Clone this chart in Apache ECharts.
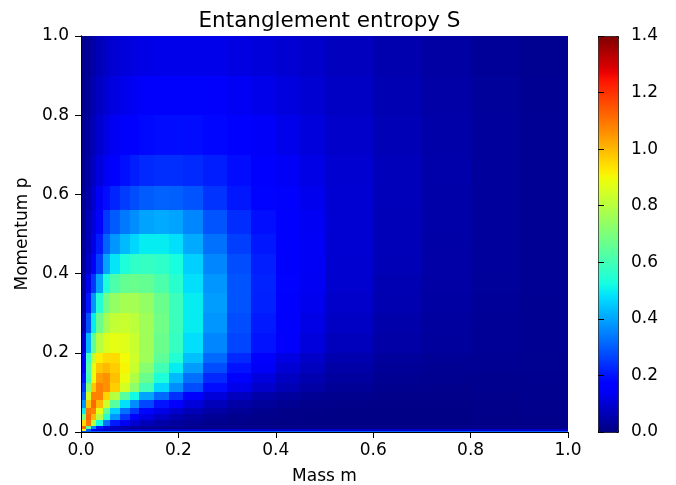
<!DOCTYPE html>
<html>
<head>
<meta charset="utf-8">
<script src="https://cdn.jsdelivr.net/npm/echarts@6/dist/echarts.min.js"></script>
<style>
  html, body { margin: 0; padding: 0; background: #fff; }
  #chart { width: 676px; height: 485px; }
</style>
</head>
<body>
<div id="chart"></div>
<script>
// cell edges of the sampled grid (mass along x, momentum along y)
const massEdges = [0, 0.01, 0.02, 0.03, 0.045, 0.06, 0.08, 0.10, 0.12, 0.15, 0.18, 0.21,
  0.25, 0.30, 0.35, 0.40, 0.45, 0.50, 0.60, 0.70, 0.80, 0.90, 1.0];
const momentumEdges = [0, 0.003, 0.008, 0.015, 0.03, 0.045, 0.06, 0.08, 0.10, 0.125, 0.15,
  0.175, 0.20, 0.25, 0.30, 0.35, 0.40, 0.45, 0.50, 0.56, 0.62, 0.70, 0.80, 0.90, 1.0];

// entropy S, one row per momentum cell (bottom to top)
const entropy = [
  [0.3, 0.3, 0.3, 0.3, 0.3, 0.3, 0.3, 0.3, 0.3, 0.3, 0.3, 0.3, 0.3, 0.3, 0.3, 0.3, 0.3, 0.3, 0.3, 0.3, 0.3, 0.3],
  [0.9, 0.3, 0.16, 0.11, 0.1, 0.09, 0.09, 0.09, 0.09, 0.09, 0.09, 0.09, 0.09, 0.09, 0.09, 0.09, 0.09, 0.09, 0.09, 0.09, 0.09, 0.09],
  [1.12, 0.65, 0.36, 0.2, 0.12, 0.075, 0.05, 0.037, 0.028, 0.022, 0.018, 0.016, 0.014, 0.012, 0.011, 0.01, 0.01, 0.01, 0.01, 0.011, 0.012, 0.014],
  [0.95, 1.1, 0.8, 0.52, 0.33, 0.21, 0.14, 0.1, 0.07, 0.05, 0.037, 0.027, 0.018, 0.013, 0.01, 0.009, 0.008, 0.008, 0.008, 0.009, 0.011, 0.014],
  [0.7, 1.12, 1.0, 0.8, 0.56, 0.38, 0.25, 0.17, 0.12, 0.085, 0.06, 0.042, 0.028, 0.018, 0.013, 0.01, 0.009, 0.008, 0.008, 0.009, 0.011, 0.014],
  [0.5, 1.1, 1.08, 0.88, 0.66, 0.46, 0.33, 0.25, 0.18, 0.13, 0.095, 0.068, 0.044, 0.028, 0.019, 0.014, 0.011, 0.009, 0.008, 0.009, 0.012, 0.015],
  [0.38, 0.98, 1.12, 1.0, 0.84, 0.64, 0.48, 0.37, 0.27, 0.2, 0.15, 0.11, 0.07, 0.047, 0.032, 0.022, 0.016, 0.012, 0.01, 0.011, 0.013, 0.016],
  [0.3, 0.85, 1.08, 1.08, 0.96, 0.8, 0.64, 0.52, 0.4, 0.32, 0.24, 0.17, 0.11, 0.075, 0.05, 0.034, 0.025, 0.017, 0.013, 0.013, 0.015, 0.018],
  [0.25, 0.72, 0.98, 1.08, 1.06, 0.97, 0.85, 0.73, 0.6, 0.47, 0.37, 0.28, 0.19, 0.13, 0.09, 0.063, 0.045, 0.029, 0.019, 0.016, 0.017, 0.019],
  [0.2, 0.6, 0.9, 1.04, 1.06, 0.99, 0.89, 0.79, 0.67, 0.54, 0.43, 0.33, 0.23, 0.16, 0.115, 0.08, 0.058, 0.037, 0.024, 0.02, 0.019, 0.02],
  [0.16, 0.62, 0.88, 0.98, 1.0, 0.97, 0.91, 0.83, 0.72, 0.6, 0.5, 0.39, 0.28, 0.2, 0.145, 0.103, 0.076, 0.048, 0.03, 0.024, 0.022, 0.021],
  [0.14, 0.58, 0.82, 0.92, 0.95, 0.95, 0.9, 0.84, 0.76, 0.65, 0.55, 0.44, 0.32, 0.23, 0.165, 0.12, 0.088, 0.057, 0.036, 0.027, 0.023, 0.021],
  [0.1, 0.42, 0.65, 0.8, 0.86, 0.88, 0.87, 0.83, 0.76, 0.67, 0.58, 0.48, 0.36, 0.27, 0.2, 0.15, 0.113, 0.073, 0.046, 0.034, 0.027, 0.022],
  [0.06, 0.28, 0.5, 0.67, 0.77, 0.82, 0.83, 0.81, 0.76, 0.68, 0.59, 0.5, 0.38, 0.28, 0.21, 0.16, 0.125, 0.082, 0.052, 0.038, 0.029, 0.023],
  [0.04, 0.2, 0.38, 0.55, 0.68, 0.74, 0.77, 0.77, 0.74, 0.67, 0.59, 0.5, 0.39, 0.29, 0.22, 0.172, 0.135, 0.09, 0.058, 0.042, 0.031, 0.024],
  [0.035, 0.13, 0.25, 0.4, 0.54, 0.62, 0.66, 0.67, 0.66, 0.62, 0.56, 0.48, 0.38, 0.29, 0.222, 0.176, 0.142, 0.096, 0.062, 0.045, 0.033, 0.025],
  [0.03, 0.085, 0.15, 0.26, 0.4, 0.49, 0.54, 0.57, 0.58, 0.57, 0.53, 0.46, 0.36, 0.28, 0.217, 0.174, 0.143, 0.099, 0.066, 0.047, 0.034, 0.025],
  [0.027, 0.072, 0.125, 0.21, 0.31, 0.38, 0.43, 0.47, 0.5, 0.5, 0.48, 0.41, 0.33, 0.26, 0.205, 0.17, 0.143, 0.1, 0.068, 0.048, 0.035, 0.025],
  [0.024, 0.065, 0.11, 0.175, 0.25, 0.3, 0.34, 0.37, 0.4, 0.41, 0.4, 0.36, 0.29, 0.235, 0.193, 0.164, 0.14, 0.101, 0.069, 0.05, 0.036, 0.026],
  [0.02, 0.056, 0.095, 0.14, 0.19, 0.225, 0.255, 0.28, 0.3, 0.31, 0.305, 0.29, 0.245, 0.205, 0.178, 0.155, 0.134, 0.1, 0.07, 0.05, 0.036, 0.026],
  [0.018, 0.048, 0.08, 0.112, 0.142, 0.17, 0.195, 0.215, 0.23, 0.238, 0.238, 0.232, 0.215, 0.19, 0.165, 0.145, 0.125, 0.097, 0.07, 0.051, 0.036, 0.026],
  [0.016, 0.042, 0.068, 0.095, 0.12, 0.142, 0.16, 0.174, 0.185, 0.19, 0.192, 0.19, 0.182, 0.165, 0.148, 0.13, 0.112, 0.09, 0.066, 0.049, 0.035, 0.025],
  [0.014, 0.036, 0.058, 0.08, 0.1, 0.118, 0.132, 0.142, 0.15, 0.155, 0.157, 0.156, 0.152, 0.142, 0.128, 0.114, 0.1, 0.082, 0.062, 0.046, 0.033, 0.023],
  [0.012, 0.03, 0.048, 0.068, 0.085, 0.1, 0.11, 0.118, 0.124, 0.128, 0.13, 0.13, 0.128, 0.12, 0.11, 0.1, 0.09, 0.075, 0.057, 0.043, 0.031, 0.021]
];

const axisTicks = [0, 0.2, 0.4, 0.6, 0.8, 1.0];
const colorbarTicks = [0, 0.2, 0.4, 0.6, 0.8, 1.0, 1.2, 1.4];

// matplotlib "jet" colormap
function jet(t) {
  const seg = (xs, ys) => {
    for (let i = 1; i < xs.length; i++) {
      if (t <= xs[i]) return ys[i - 1] + (ys[i] - ys[i - 1]) * (t - xs[i - 1]) / (xs[i] - xs[i - 1]);
    }
    return ys[ys.length - 1];
  };
  const r = seg([0, 0.35, 0.66, 0.89, 1], [0, 0, 1, 1, 0.5]);
  const g = seg([0, 0.125, 0.375, 0.64, 0.91, 1], [0, 0, 1, 1, 0, 0]);
  const b = seg([0, 0.11, 0.34, 0.65, 1], [0.5, 1, 1, 0, 0]);
  return 'rgb(' + Math.round(r * 255) + ',' + Math.round(g * 255) + ',' + Math.round(b * 255) + ')';
}
const jetColors = Array.from({ length: 57 }, (_, i) => jet(i / 56));

const cells = [];
entropy.forEach((row, j) => {
  row.forEach((s, i) => {
    cells.push([massEdges[i], massEdges[i + 1], momentumEdges[j], momentumEdges[j + 1], s]);
  });
});

const font = 'DejaVu Sans';
const fmt = (v) => v.toFixed(1);

const chart = echarts.init(document.getElementById('chart'), null, { renderer: 'canvas' });

chart.setOption({
  animation: false,
  backgroundColor: '#fff',
  title: {
    text: 'Entanglement entropy S',
    left: 324.5,
    top: 5,
    textAlign: 'center',
    textStyle: { fontFamily: font, fontSize: 21.5, fontWeight: 'normal', color: '#000' }
  },
  grid: [
    { left: 81, top: 36, width: 487, height: 396, outerBoundsMode: 'none', containLabel: false },
    { left: 598, top: 36, width: 20, height: 396, outerBoundsMode: 'none', containLabel: false }
  ],
  xAxis: [
    {
      gridIndex: 0, type: 'value', min: 0, max: 1, interval: 0.2, position: 'bottom', z: 10,
      name: 'Mass m', nameLocation: 'middle', nameGap: 36,
      nameTextStyle: { fontFamily: font, fontSize: 17, color: '#000' },
      axisLine: { lineStyle: { color: '#000', width: 1 } },
      axisTick: { length: 6, lineStyle: { color: '#000', width: 1 } },
      axisLabel: {
        margin: 10, fontFamily: font, fontSize: 17, color: '#000',
        formatter: (v) => axisTicks.includes(+v.toFixed(1)) ? fmt(v) : ''
      },
      splitLine: { show: false }
    },
    { gridIndex: 1, type: 'value', min: 0, max: 1, show: false },
    {
      gridIndex: 0, type: 'value', min: 0, max: 1, position: 'top', z: 10,
      axisLine: { lineStyle: { color: '#000', width: 1 } },
      axisTick: { show: false }, axisLabel: { show: false }, splitLine: { show: false }
    }
  ],
  yAxis: [
    {
      gridIndex: 0, type: 'value', min: 0, max: 1, interval: 0.2, position: 'left', z: 10,
      name: 'Momentum p', nameLocation: 'middle', nameGap: 50, nameRotate: 90,
      nameTextStyle: { fontFamily: font, fontSize: 17, color: '#000' },
      axisLine: { lineStyle: { color: '#000', width: 1 } },
      axisTick: { length: 6, lineStyle: { color: '#000', width: 1 } },
      axisLabel: { margin: 12, fontFamily: font, fontSize: 17, color: '#000', formatter: fmt },
      splitLine: { show: false }
    },
    {
      gridIndex: 1, type: 'value', min: 0, max: 1.4, interval: 0.2, position: 'right', z: 10,
      axisLine: { show: false },
      axisTick: { length: 6, lineStyle: { color: '#000', width: 1 } },
      axisLabel: {
        margin: 13, fontFamily: font, fontSize: 17, color: '#000',
        formatter: (v) => colorbarTicks.includes(+v.toFixed(1)) ? fmt(v) : ''
      },
      splitLine: { show: false }
    },
    {
      gridIndex: 0, type: 'value', min: 0, max: 1, position: 'right', z: 10,
      axisLine: { lineStyle: { color: '#000', width: 1 } },
      axisTick: { show: false }, axisLabel: { show: false }, splitLine: { show: false }
    }
  ],
  visualMap: {
    type: 'continuous',
    min: 0,
    max: 1.4,
    dimension: 4,
    seriesIndex: 0,
    calculable: false,
    orient: 'vertical',
    left: 598,
    top: 36,
    itemWidth: 20,
    itemHeight: 396,
    padding: 0,
    borderColor: '#000',
    borderWidth: 1,
    inRange: { color: jetColors }
  },
  series: [
    {
      type: 'custom',
      xAxisIndex: 0,
      yAxisIndex: 0,
      clip: true,
      dimensions: ['m0', 'm1', 'p0', 'p1', 'S'],
      encode: { x: [0, 1], y: [2, 3] },
      renderItem: function (params, api) {
        const a = api.coord([api.value(0), api.value(2)]);
        const b = api.coord([api.value(1), api.value(3)]);
        const x = Math.round(a[0]);
        const y = Math.round(b[1]);
        return {
          type: 'rect',
          shape: { x: x, y: y, width: Math.round(b[0]) - x, height: Math.round(a[1]) - y },
          style: { fill: api.visual('color') }
        };
      },
      data: cells
    }
  ]
});
</script>
</body>
</html>
